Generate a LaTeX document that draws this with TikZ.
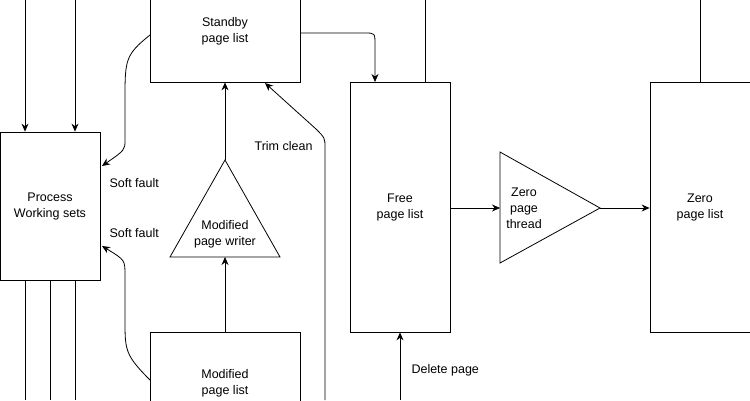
\documentclass[tikz,border=0pt]{standalone}
\usepackage{fontspec}
\setmainfont{Liberation Sans}
\usetikzlibrary{positioning}
\tikzset{
    box/.style={draw, thick, align=center, inner sep=0pt},
    lbl/.style={align=center},
    link/.style={thick, -{Stealth[length=8pt,width=7pt]}},
}
\usetikzlibrary{arrows.meta}
\begin{document}
\begin{tikzpicture}[x=1pt, y=-1pt, font=\fontsize{12.5}{16}\selectfont]
    \useasboundingbox (0,0) rectangle (750,400);
    \clip (0,0) rectangle (750,400);

    % Listas
    \node[box, minimum width=150pt, minimum height=102pt] (standby) at (225,31) {Standby\\page list};
    \node[box, minimum width=150pt, minimum height=102pt] (modified) at (225,383) {Modified\\page list};
    \node[box, minimum width=100pt, minimum height=148pt] (process) at (50,206) {Process\\Working sets};
    \node[box, minimum width=100pt, minimum height=250pt] (free) at (400,207) {Free\\page list};
    \node[box, minimum width=100pt, minimum height=250pt] (zero) at (700,207) {Zero\\page list};

    % Hilos
    \coordinate (mwtop) at (225,160);
    \coordinate (mwbase) at (225,257);
    \draw[thick] (mwtop) -- (280,257) -- (170,257) -- cycle;
    \node[lbl] (writer) at (225,234) {Modified\\page writer};
    \coordinate (ztleft) at (500,208);
    \coordinate (ztapex) at (600,208);
    \draw[thick] (500,152) -- (ztapex) -- (500,263) -- cycle;
    \node[lbl] (thread) at (524,208) {Zero\\page\\thread};

    % Entradas y salidas sueltas
    \coordinate (in1) at (25,0);
    \coordinate (in2) at (75,0);
    \coordinate (freeup) at (425,0);
    \coordinate (zeroup) at (700,0);
    \coordinate (trim) at (325,400);
    \coordinate (del) at (400,400);

    \draw[link] (in1) -- (in1 |- process.north);
    \draw[link] (in2) -- (in2 |- process.north);
    \foreach \x in {25,50,75}
        \draw[thick] (\x,280) -- (\x,400);
    \draw[thick] (freeup |- free.north) -- (freeup);
    \draw[thick] (zero.north) -- (zeroup);

    % Transiciones
    \draw[link] (modified.north) -- (mwbase);
    \draw[link] (mwtop) -- (standby.south);
    \draw[link] (trim) -- (325,148) .. controls (325,138) .. (316,129) -- (265,83);
    \node[lbl, anchor=east] (trimlbl) at (316,146) {Trim clean};
    \draw[link] (standby.east |- 0,33) -- (365,33) .. controls (375,33) .. (375,45) -- (375,82);
    \draw[link] (del) -- (free.south);
    \node[lbl, anchor=west] (dellbl) at (408,370) {Delete page};
    \draw[link] (free.east |- ztleft) -- (ztleft);
    \draw[link] (ztapex) -- (zero.west |- ztapex);

    % Fallos suaves
    \draw[link] (150,35) .. controls (125,55) and (125,60) .. (125,100) -- (125,140) .. controls (125,150) .. (102,166);
    \node[lbl, anchor=west] (sf1) at (106,183) {Soft fault};
    \draw[link] (150,380) .. controls (125,355) and (125,350) .. (125,320) -- (125,275) .. controls (125,260) .. (102,246);
    \node[lbl, anchor=west] (sf2) at (106,233) {Soft fault};
\end{tikzpicture}
\end{document}
